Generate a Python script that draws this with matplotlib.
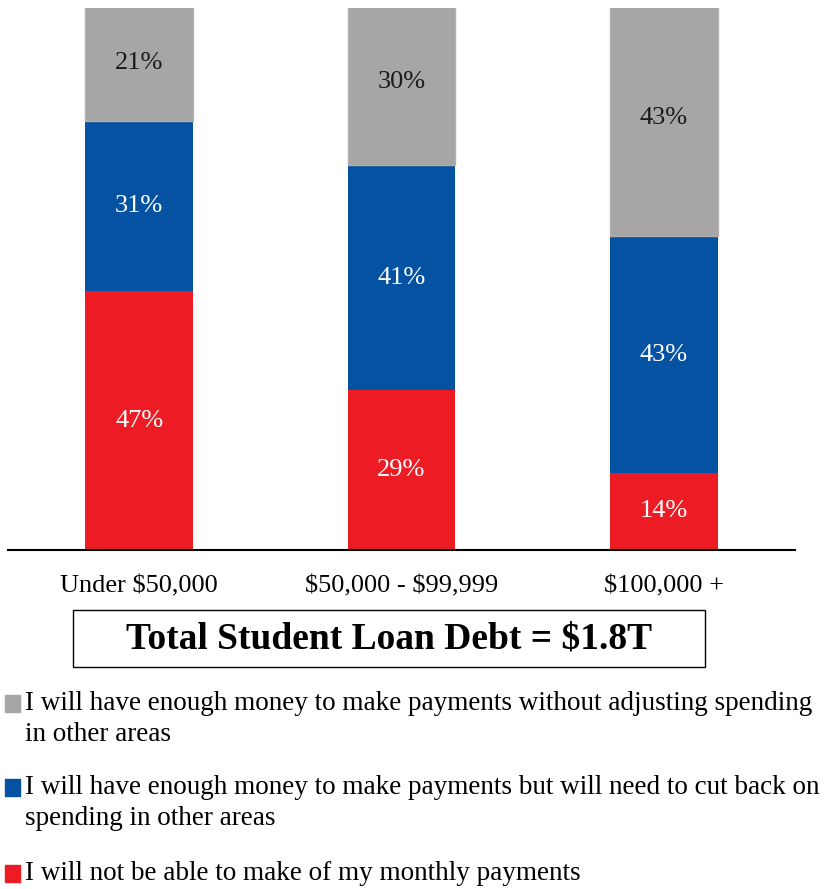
import matplotlib.pyplot as plt
import numpy as np

plt.rcParams['font.family'] = ['Liberation Serif', 'DejaVu Serif']

categories = ['Under \\$50,000', '\\$50,000 - \\$99,999', '\\$100,000 +']
not_able = [47, 29, 14]
cut_back = [31, 41, 43]
no_adjust = [21, 30, 43]

legend_labels = [
    'I will have enough money to make payments without adjusting spending\nin other areas',
    'I will have enough money to make payments but will need to cut back on\nspending in other areas',
    'I will not be able to make of my monthly payments',
]

c_red = '#ed1c24'
c_blue = '#0652a2'
c_grey = '#a6a6a6'

fig = plt.figure(figsize=(8.25, 8.89), dpi=100)
W, H = 825, 889
ax = fig.add_axes([8 / W, 1 - 550 / H, (795 - 8) / W, (550 - 8) / H])

x = np.arange(len(categories))
w = 0.41
red = np.array(not_able)
blue = np.array(cut_back)
grey = np.array(no_adjust)

ax.bar(x, red, w, color=c_red)
ax.bar(x, blue, w, bottom=red, color=c_blue)
ax.bar(x, grey, w, bottom=red + blue, color=c_grey, edgecolor='#b5b0b0', linewidth=1)

for i in range(len(x)):
    ax.text(x[i], red[i] / 2, f'{red[i]}%', ha='center', va='center', color='white', fontsize=19)
    ax.text(x[i], red[i] + blue[i] / 2, f'{blue[i]}%', ha='center', va='center', color='white', fontsize=19)
    ax.text(x[i], red[i] + blue[i] + grey[i] / 2, f'{grey[i]}%', ha='center', va='center',
            color='#1a1a1a', fontsize=19)

ax.set_xlim(-0.5, 2.5)
ax.set_ylim(0, 98.5)
for s in ['top', 'right', 'left']:
    ax.spines[s].set_visible(False)
ax.spines['bottom'].set_linewidth(1.5)
ax.set_yticks([])
ax.set_xticks(x)
ax.set_xticklabels(categories, fontsize=19)
ax.tick_params(axis='x', length=0, pad=18)

# boxed total
fig.text(389 / W, 1 - 639 / H, 'Total Student Loan Debt = \\$1.8T', ha='center', va='center',
         fontsize=27, fontweight='bold')
box = plt.Rectangle((73 / W, 1 - 667 / H), (705 - 73) / W, 57 / H, transform=fig.transFigure,
                    fill=False, edgecolor='black', linewidth=1)
fig.patches.append(box)

# legend
leg_y = [703, 787, 873]
for yy, lab, col in zip(leg_y, legend_labels, [c_grey, c_blue, c_red]):
    sq = plt.Rectangle((5 / W, 1 - (yy + 9) / H), 15 / W, 17 / H, transform=fig.transFigure,
                       color=col)
    fig.patches.append(sq)
    fig.text(25 / W, 1 - (yy - 12) / H, lab, ha='left', va='top', fontsize=19.5, linespacing=1.3)

fig.savefig('out.png', dpi=100)
